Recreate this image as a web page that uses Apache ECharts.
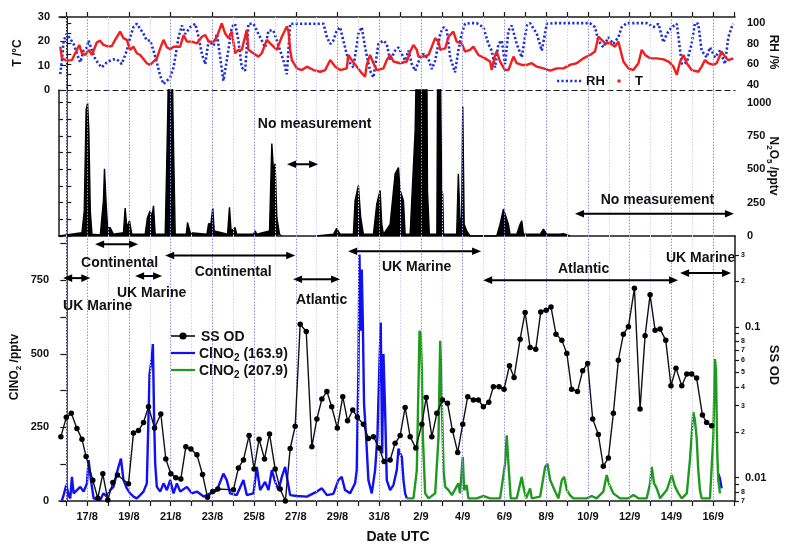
<!DOCTYPE html>
<html>
<head>
<meta charset="utf-8">
<script src="https://cdn.jsdelivr.net/npm/echarts@6/dist/echarts.min.js"></script>
<style>
  html, body { margin: 0; padding: 0; background: #fff; }
  #chart { width: 788px; height: 544px; }
</style>
</head>
<body>
<div id="chart"></div>
<script>
// Time is expressed in days since 16/8 00:00 UTC.

// ---------- axis labels ----------
const dateLabels = ['17/8', '19/8', '21/8', '23/8', '25/8', '27/8', '29/8', '31/8',
                    '2/9', '4/9', '6/9', '8/9', '10/9', '12/9', '14/9', '16/9'];
const labelDays = [1, 3, 5, 7, 9, 11, 13, 15, 17, 19, 21, 23, 25, 27, 29, 31];
const tempTicks = [0, 10, 20, 30];
const rhTicks = [40, 60, 80, 100];
const n2o5Ticks = [0, 250, 500, 750, 1000];
const clno2Ticks = [0, 250, 500, 750];
const ssodTicks = [0.007, 0.008, 0.01, 0.02, 0.03, 0.04, 0.05, 0.06, 0.07, 0.08, 0.1, 0.2, 0.3];

// ---------- temperature (°C) ----------
const temperature = [[-0.29,17.8],[-0.21,13.0],[0.03,12.1],[0.27,12.3],[0.51,16.5],[0.62,18.5],[0.75,15.1],[0.91,14.4],[1.07,16.5],[1.23,14.4],[1.46,19.5],[1.62,20.3],[1.78,18.5],[2.02,17.8],[2.18,18.1],[2.34,20.6],[2.58,24.0],[2.74,21.3],[2.90,20.6],[3.06,16.5],[3.22,17.8],[3.38,15.1],[3.54,14.4],[3.86,11.0],[4.02,10.3],[4.18,11.7],[4.34,13.0],[4.50,17.1],[4.66,20.6],[4.82,17.6],[4.98,16.7],[5.14,17.8],[5.46,17.8],[5.62,22.6],[5.78,19.9],[6.02,19.9],[6.26,19.2],[6.50,21.9],[6.66,22.6],[6.82,19.9],[7.06,19.9],[7.22,21.9],[7.45,27.4],[7.61,23.3],[7.77,21.3],[7.93,24.0],[8.09,15.1],[8.25,16.5],[8.41,16.5],[8.65,24.7],[8.73,16.5],[8.97,15.1],[9.21,13.7],[9.37,15.1],[9.61,20.6],[9.85,18.5],[10.09,16.5],[10.33,21.9],[10.57,26.1],[10.65,24.0],[10.73,16.5],[10.81,12.3],[11.05,8.9],[11.29,8.2],[11.53,9.6],[11.85,8.2],[12.17,7.5],[12.41,8.2],[12.65,12.3],[12.89,9.6],[13.13,8.2],[13.44,8.9],[13.52,14.4],[13.68,12.3],[13.92,9.6],[14.16,6.9],[14.32,5.5],[14.40,10.3],[14.56,14.4],[14.72,11.0],[14.88,8.2],[15.20,8.9],[15.36,12.3],[15.52,14.4],[15.68,11.7],[16.00,11.0],[16.32,11.7],[16.48,15.8],[16.64,18.5],[16.80,16.5],[16.88,13.7],[17.12,13.7],[17.36,14.4],[17.52,17.8],[17.68,21.3],[17.84,19.9],[17.92,16.5],[18.16,17.1],[18.32,21.9],[18.55,24.0],[18.71,19.9],[18.95,19.2],[19.11,15.8],[19.35,16.5],[19.51,17.8],[19.75,14.4],[20.07,13.0],[20.31,11.7],[20.39,8.2],[20.55,14.4],[20.63,15.8],[20.79,11.7],[21.03,8.2],[21.19,8.2],[21.43,13.7],[21.59,11.0],[21.83,10.3],[22.07,10.3],[22.31,11.0],[22.55,9.6],[22.87,8.9],[23.19,8.0],[23.51,8.9],[23.83,8.9],[24.14,10.3],[24.46,11.0],[24.78,13.0],[25.10,14.4],[25.34,15.8],[25.50,21.9],[25.66,20.6],[25.82,19.2],[26.06,19.2],[26.30,17.8],[26.46,19.9],[26.54,17.1],[26.70,11.7],[26.94,8.9],[27.18,8.2],[27.42,11.0],[27.58,16.5],[27.74,14.4],[27.98,13.0],[28.30,13.0],[28.62,12.6],[28.86,11.7],[29.10,9.6],[29.26,6.2],[29.42,11.7],[29.58,14.4],[29.74,11.0],[29.97,8.2],[30.29,7.5],[30.45,9.6],[30.61,12.3],[30.77,11.0],[31.01,10.3],[31.17,11.0],[31.41,15.8],[31.57,13.7],[31.73,12.3],[31.97,13.0]];

// ---------- relative humidity (%) ----------
const humidity = [[-0.29,50.4],[-0.21,63.5],[-0.13,83.1],[0.03,89.6],[0.19,84.7],[0.35,79.8],[0.51,70.0],[0.67,61.9],[0.83,73.3],[0.99,76.5],[1.07,83.1],[1.23,73.3],[1.39,65.1],[1.55,60.2],[1.70,57.0],[1.94,61.9],[2.10,63.5],[2.34,65.1],[2.50,63.5],[2.66,60.2],[2.90,73.3],[3.06,86.3],[3.22,96.1],[3.38,99.4],[3.54,94.5],[3.70,89.6],[3.86,83.1],[4.02,83.1],[4.18,73.3],[4.34,61.9],[4.50,48.8],[4.66,40.7],[4.82,43.9],[4.98,47.2],[5.14,57.0],[5.38,86.3],[5.54,97.7],[5.70,89.6],[5.94,96.1],[6.18,99.4],[6.34,86.3],[6.50,70.0],[6.66,60.2],[6.82,83.1],[7.06,78.2],[7.22,89.6],[7.53,43.9],[7.69,63.5],[7.93,96.1],[8.09,99.4],[8.25,83.1],[8.41,57.0],[8.57,53.7],[8.73,99.4],[8.97,99.4],[9.13,92.8],[9.37,83.1],[9.53,76.5],[9.69,92.8],[9.93,92.8],[10.25,73.3],[10.41,63.5],[10.57,50.4],[10.73,99.4],[11.21,99.4],[11.85,99.4],[12.33,99.4],[12.49,86.3],[12.65,79.8],[12.80,83.1],[12.96,92.8],[13.12,96.1],[13.28,83.1],[13.52,63.5],[13.76,57.0],[14.00,89.6],[14.16,96.1],[14.32,76.5],[14.56,53.7],[14.72,47.2],[14.96,79.8],[15.20,83.1],[15.36,79.8],[15.52,63.5],[15.76,73.3],[15.92,76.5],[16.08,70.0],[16.24,63.5],[16.40,73.3],[16.56,60.2],[16.72,53.7],[16.96,66.7],[17.12,70.0],[17.36,65.1],[17.52,55.3],[17.68,63.5],[17.92,89.6],[18.08,96.1],[18.24,92.8],[18.40,66.7],[18.63,52.1],[18.79,73.3],[18.95,89.6],[19.11,99.4],[19.35,100],[19.67,100],[19.99,96.1],[20.23,79.8],[20.39,73.3],[20.55,57.0],[20.71,79.8],[20.87,83.1],[21.03,60.2],[21.19,92.8],[21.35,97.7],[21.59,79.8],[21.83,66.7],[22.07,97.7],[22.23,100],[22.55,89.6],[22.79,73.3],[23.03,99.4],[23.35,100],[23.83,100],[24.46,100],[25.10,100],[25.34,96.1],[25.50,83.1],[25.74,76.5],[25.98,86.3],[26.22,79.8],[26.46,86.3],[26.62,96.1],[26.86,100],[27.34,100],[27.82,100],[28.14,96.1],[28.38,99.4],[28.62,81.4],[28.78,89.6],[29.02,96.1],[29.26,99.4],[29.50,60.2],[29.74,61.9],[29.97,79.8],[30.13,100],[30.29,99.4],[30.45,73.3],[30.69,66.7],[30.85,76.5],[31.09,66.7],[31.33,73.3],[31.57,60.2],[31.73,86.3],[31.89,96.1],[31.97,99.4]];

// ---------- N2O5 (pptv); null marks the gap without measurement ----------
const n2o5 = [[-0.35,0],[0.75,25],[0.86,189],[0.95,947],[1.02,997],[1.08,795],[1.15,189],[1.23,13],[1.63,8],[1.70,13],[1.78,265],[1.83,505],[1.91,240],[1.98,63],[2.10,63],[2.18,76],[2.26,13],[2.74,25],[2.82,210],[2.90,63],[3.03,114],[3.14,13],[3.78,13],[3.89,139],[4.02,189],[4.10,139],[4.18,227],[4.26,13],[4.74,13],[4.82,593],[4.87,997],[4.92,1600],[5.04,1800],[5.11,947],[5.15,593],[5.22,13],[5.75,13],[5.81,101],[5.94,25],[6.74,13],[6.82,93],[6.93,88],[7.02,210],[7.09,38],[7.73,13],[7.82,215],[7.90,38],[8.09,63],[8.17,13],[8.97,13],[9.05,38],[9.13,13],[9.74,38],[9.85,694],[9.93,492],[10.01,543],[10.09,139],[10.22,13],[10.30,0],[10.40,null],[12.00,0],[12.80,13],[12.96,58],[13.12,13],[13.76,13],[13.84,265],[14.00,379],[14.11,139],[14.24,13],[14.72,13],[14.88,240],[15.04,341],[15.12,88],[15.20,13],[15.52,88],[15.68,341],[15.76,467],[15.92,513],[16.00,341],[16.16,265],[16.24,13],[16.48,13],[16.72,795],[16.80,1500],[17.04,1800],[17.28,1400],[17.31,341],[17.40,13],[17.76,13],[17.80,1400],[17.92,1500],[17.99,341],[18.04,316],[18.08,13],[18.71,13],[18.79,467],[18.87,114],[18.95,139],[19.00,972],[19.07,88],[19.19,38],[19.35,0],[20.63,0],[20.79,88],[20.95,202],[21.03,189],[21.19,88],[21.27,13],[21.59,13],[21.75,88],[21.83,114],[21.91,13],[22.71,13],[22.87,51],[23.03,13],[23.67,13],[23.83,18],[24.14,0]];

// ---------- ClNO2 (pptv), m/z 163.9 and 207.9 ----------
const clno2Mz164 = [[-0.21,1],[-0.13,20],[0,54],[0.11,20],[0.19,9],[0.27,82],[0.35,26],[0.51,37],[0.67,48],[0.83,32],[0.99,60],[1.07,139],[1.11,139],[1.18,71],[1.31,9],[1.63,3],[1.78,26],[1.94,15],[2.10,37],[2.26,48],[2.50,116],[2.62,144],[2.74,71],[2.90,43],[3.06,26],[3.22,15],[3.38,9],[3.54,20],[3.70,32],[3.86,60],[3.99,431],[4.10,488],[4.15,533],[4.21,274],[4.26,127],[4.34,48],[4.50,32],[4.66,60],[4.82,37],[4.98,71],[5.14,26],[5.30,60],[5.46,32],[5.78,48],[6.02,26],[6.26,32],[6.58,15],[6.90,26],[7.22,37],[7.53,93],[7.69,71],[7.85,26],[8.17,20],[8.49,71],[8.65,20],[8.97,26],[9.13,116],[9.29,37],[9.53,65],[9.69,37],[9.85,105],[10.01,65],[10.17,37],[10.33,82],[10.49,116],[10.60,71],[10.73,20],[11.05,17],[11.53,15],[12.01,32],[12.25,43],[12.49,20],[12.80,24],[13.04,71],[13.20,82],[13.36,37],[13.60,26],[13.84,60],[13.92,105],[14.00,443],[14.05,837],[14.11,578],[14.16,786],[14.21,617],[14.27,330],[14.37,217],[14.48,71],[14.64,26],[14.80,105],[14.91,217],[14.99,420],[15.07,606],[15.14,161],[15.20,499],[15.28,307],[15.36,71],[15.52,37],[15.68,54],[15.84,105],[15.92,178],[16.00,161],[16.08,150],[16.16,71],[16.24,26],[16.32,9]];
const clno2Mz164Late = [[31.25,93],[31.33,76],[31.41,43]];
const clno2Mz208 = [[16.32,9],[16.64,9],[16.80,105],[16.93,578],[16.99,566],[17.04,443],[17.09,217],[17.20,26],[17.36,9],[17.68,26],[17.84,217],[17.92,544],[17.96,454],[18.00,330],[18.08,105],[18.16,48],[18.32,37],[18.48,20],[18.79,60],[18.87,26],[19.00,150],[19.07,37],[19.19,54],[19.27,9],[19.67,9],[19.99,17],[20.31,9],[20.79,9],[21.03,127],[21.11,223],[21.19,127],[21.30,9],[21.59,9],[21.83,82],[21.91,48],[22.04,9],[22.23,43],[22.31,9],[22.71,15],[22.95,116],[23.06,127],[23.19,71],[23.43,32],[23.59,9],[23.75,71],[23.86,82],[23.99,37],[24.14,20],[24.30,9],[24.94,9],[25.18,17],[25.42,9],[25.74,32],[25.90,88],[26.03,54],[26.22,26],[26.54,9],[26.94,9],[27.18,20],[27.42,9],[27.82,9],[27.98,60],[28.06,116],[28.17,60],[28.30,43],[28.46,9],[28.78,37],[29.02,88],[29.18,48],[29.34,26],[29.50,9],[29.74,26],[29.89,139],[30.05,302],[30.13,274],[30.21,217],[30.29,105],[30.37,37],[30.45,9],[30.85,9],[31.01,217],[31.09,482],[31.14,443],[31.20,161],[31.25,71],[31.33,26]];

// ---------- sea-salt optical depth ----------
const seaSaltOD = [[-0.26,0.0187],[0.0,0.0251],[0.24,0.0267],[0.51,0.0212],[0.75,0.0180],[0.95,0.0138],[1.27,0.0096],[1.51,0.0073],[1.75,0.0106],[1.99,0.0071],[2.23,0.0093],[2.45,0.0104],[2.98,0.0091],[3.22,0.0198],[3.46,0.0205],[3.70,0.0232],[3.94,0.0295],[4.23,0.0213],[4.53,0.0264],[4.77,0.0133],[5.01,0.0106],[5.25,0.0100],[5.49,0.0098],[5.73,0.0160],[5.97,0.0155],[6.26,0.0142],[6.53,0.0105],[6.77,0.0074],[7.02,0.0081],[7.26,0.0084],[8.01,0.0083],[8.25,0.0116],[8.49,0.0131],[8.76,0.0190],[9.00,0.0114],[9.24,0.0180],[9.50,0.0133],[9.74,0.0195],[10.01,0.0114],[10.25,0.0084],[10.50,0.0070],[10.73,0.0156],[10.97,0.0219],[11.21,0.104],[11.50,0.093],[11.77,0.0160],[12.01,0.0245],[12.25,0.0332],[12.49,0.0373],[12.72,0.0295],[12.99,0.0213],[13.25,0.0344],[13.48,0.0238],[13.73,0.0281],[13.95,0.0251],[14.24,0.0226],[14.48,0.0182],[14.72,0.0187],[14.99,0.0157],[15.23,0.0128],[15.52,0.0131],[15.76,0.0169],[16.00,0.0190],[16.24,0.0292],[16.48,0.0187],[16.75,0.0157],[17.04,0.0226],[17.25,0.0340],[17.52,0.0187],[17.76,0.0267],[18.03,0.0327],[18.27,0.0311],[18.51,0.0205],[18.76,0.0147],[19.00,0.0226],[19.24,0.0344],[19.51,0.0327],[19.75,0.0327],[19.99,0.0295],[20.25,0.0316],[20.47,0.0401],[20.74,0.0401],[20.98,0.0386],[21.24,0.0552],[21.46,0.0461],[21.75,0.0828],[21.99,0.1245],[22.23,0.0729],[22.50,0.0711],[22.74,0.1256],[23.00,0.1288],[23.23,0.1355],[23.47,0.0893],[23.75,0.0816],[23.99,0.0666],[24.22,0.0386],[24.50,0.0372],[24.75,0.0512],[24.99,0.0571],[25.23,0.0245],[25.50,0.0193],[25.74,0.0119],[25.98,0.0135],[26.22,0.0267],[26.46,0.0601],[26.70,0.0893],[26.94,0.100],[27.23,0.180],[27.50,0.0285],[27.74,0.0871],[27.98,0.163],[28.22,0.0950],[28.46,0.0966],[28.73,0.0816],[28.98,0.0407],[29.22,0.0532],[29.50,0.0407],[29.74,0.0486],[29.97,0.0486],[30.21,0.0457],[30.49,0.0260],[30.69,0.0232],[30.93,0.0221]];

// ---------- air-mass periods and data gaps (days) ----------
const airMassNames = ['UK Marine', 'Continental', 'UK Marine', 'Continental', 'Atlantic', 'UK Marine', 'Atlantic', 'UK Marine'];
const airMassStart = [-0.15, 1.38, 3.30, 4.74, 10.87, 13.51, 19.98, 29.42];
const airMassEnd   = [1.15, 3.44, 4.59, 10.97, 13.12, 19.88, 29.32, 31.86];
const gapNames = ['No measurement', 'No measurement'];
const gapStart = [10.58, 24.38];
const gapEnd   = [12.07, 32.0];

// ---------- layout ----------
const FONT = '"Liberation Sans", Arial, Helvetica, sans-serif';
const X_MIN = -0.35, X_MAX = 32.05;
const INK = '#1a1a1a';
const tickDays = Array.from({ length: 33 }, (_, i) => i);
const topTickDays = [0, 1, 3, 5, 7, 9, 11, 13, 15].concat(tickDays.filter(d => d >= 16));
// arrow heights (pptv on ClNO2 axis / N2O5 axis) and label offsets in px
const airMassArrowLevel = [757, 872, 764, 834, 753, 848, 750, 774];
const airMassLabelDx = [21, 3, 3, 3, 5, 2, 3, -5];
const airMassLabelDy = [28, 19, 17, 17, 21, 16, -11, -15];
const gapArrowLevel = [538, 167];
const gapLabelDx = [12, 3];
const gapLabelDy = [-40, -14];

const axisLineStyle = { color: INK, width: 1.5 };
const tickLineStyle = { color: INK, width: 1.2 };
const labelStyle = { color: '#111', fontSize: 11, fontWeight: 'bold', fontFamily: FONT };
const plainNumber = v => String(v);

function xAxisFor(gridIndex, extra) {
  return Object.assign({
    type: 'value', gridIndex, min: X_MIN, max: X_MAX,
    splitLine: { show: false },
    axisLine: { show: true, onZero: false, lineStyle: axisLineStyle },
    axisTick: { show: false },
    axisLabel: { show: false }
  }, extra);
}

function dayLineSeries(xi, yi) {
  return {
    type: 'line', xAxisIndex: xi, yAxisIndex: yi, data: [], silent: true, z: 1,
    markLine: {
      silent: true, animation: false, symbol: ['none', 'none'],
      label: { show: false },
      data: tickDays.filter(d => d < 32).map(d => ({
        xAxis: d,
        lineStyle: {
          color: labelDays.includes(d) ? '#8e8ef2' : '#cfd1fb',
          type: [1.5, 1.5], width: 1
        }
      }))
    }
  };
}

const decadeLabels = { 0.01: '0.01', 0.1: '0.1' };

const option = {
  animation: false,
  backgroundColor: '#fff',
  grid: [
    { left: 59, right: 53, top: 17, height: 73 },
    { left: 59, right: 53, top: 90, height: 146 },
    { left: 59, right: 53, top: 236, height: 265 }
  ],
  xAxis: [
    xAxisFor(0, { position: 'top',
      axisTick: { show: true, length: 5, customValues: topTickDays, lineStyle: tickLineStyle } }),
    xAxisFor(0, { position: 'bottom',
      axisLine: { show: true, onZero: false, lineStyle: { color: INK, width: 1.2, type: [5, 4] } } }),
    xAxisFor(1, { position: 'bottom' }),
    xAxisFor(2, { position: 'bottom',
      axisTick: { show: true, length: 5, customValues: tickDays, lineStyle: tickLineStyle },
      axisLabel: Object.assign({ show: true, margin: 10, customValues: labelDays,
        formatter: v => { const i = labelDays.indexOf(Math.round(v)); return i >= 0 ? dateLabels[i] : ''; } },
        labelStyle) })
  ],
  yAxis: [
    { type: 'value', gridIndex: 0, position: 'left', min: 0, max: 30,
      splitLine: { show: false }, axisLine: { show: true, lineStyle: axisLineStyle },
      axisTick: { show: true, length: 6, customValues: tempTicks, lineStyle: tickLineStyle },
      axisLabel: Object.assign({ margin: 9, customValues: tempTicks, formatter: plainNumber }, labelStyle) },
    { type: 'value', gridIndex: 0, position: 'right', min: 35, max: 106,
      splitLine: { show: false }, axisLine: { show: true, lineStyle: axisLineStyle },
      axisTick: { show: true, length: 5, customValues: [40, 50, 60, 70, 80, 90, 100], lineStyle: tickLineStyle },
      axisLabel: Object.assign({ margin: 12, customValues: rhTicks, formatter: plainNumber }, labelStyle) },
    { type: 'value', gridIndex: 1, position: 'right', min: 0, max: 1095,
      splitLine: { show: false }, axisLine: { show: true, lineStyle: axisLineStyle },
      axisTick: { show: true, length: 5, customValues: [0, 125, 250, 375, 500, 625, 750, 875, 1000], lineStyle: tickLineStyle },
      axisLabel: Object.assign({ margin: 12, customValues: n2o5Ticks, formatter: plainNumber }, labelStyle) },
    { type: 'value', gridIndex: 1, position: 'left', min: 0, max: 1095,
      splitLine: { show: false }, axisLine: { show: true, lineStyle: axisLineStyle },
      axisTick: { show: true, inside: true, length: 4, customValues: [0, 125, 250, 375, 500, 625, 750, 875, 1000], lineStyle: tickLineStyle },
      axisLabel: { show: false } },
    { type: 'value', gridIndex: 2, position: 'left', min: 0, max: 900,
      splitLine: { show: false }, axisLine: { show: true, lineStyle: axisLineStyle },
      axisTick: { show: true, length: 6, customValues: [0, 125, 250, 375, 500, 625, 750, 875], lineStyle: tickLineStyle },
      axisLabel: Object.assign({ margin: 10, customValues: clno2Ticks, formatter: plainNumber }, labelStyle) },
    { type: 'log', logBase: 10, gridIndex: 2, position: 'right', min: 0.007, max: 0.4,
      splitLine: { show: false }, axisLine: { show: true, lineStyle: axisLineStyle },
      axisTick: { show: true, length: 4,
        customValues: [0.007, 0.008, 0.009, 0.01, 0.02, 0.03, 0.04, 0.05, 0.06, 0.07, 0.08, 0.09, 0.1, 0.2, 0.3],
        lineStyle: tickLineStyle },
      axisLabel: { margin: 6, customValues: ssodTicks,
        formatter: v => {
          const key = Math.round(v * 1000) / 1000;
          if (decadeLabels[key]) return '{big|' + decadeLabels[key] + '}';
          const digit = Math.round(v / Math.pow(10, Math.floor(Math.log10(v) + 1e-9)));
          return '{small|' + digit + '}';
        },
        rich: {
          big: { fontSize: 11, fontWeight: 'bold', fontFamily: FONT, color: '#111', padding: [0, 0, 0, 4] },
          small: { fontSize: 7, fontWeight: 'bold', fontFamily: FONT, color: '#111' }
        } } }
  ],
  series: [
    dayLineSeries(0, 0),
    { name: 'RH', type: 'line', xAxisIndex: 0, yAxisIndex: 1, data: humidity, z: 3,
      showSymbol: false, clip: true,
      lineStyle: { color: '#1f2fd8', width: 2.6, type: [2.2, 2.2] } },
    { name: 'T', type: 'line', xAxisIndex: 0, yAxisIndex: 0, data: temperature, z: 4,
      showSymbol: false, clip: true,
      lineStyle: { color: '#f21d1d', width: 2.4 } },
    dayLineSeries(2, 2),
    { name: 'N2O5', type: 'line', xAxisIndex: 2, yAxisIndex: 2, data: n2o5, z: 3,
      showSymbol: false, clip: true, connectNulls: false,
      lineStyle: { color: '#000', width: 1.4 },
      areaStyle: { color: '#000', opacity: 1 } },
    dayLineSeries(3, 4),
    { name: 'ClNO2 (163.9)', type: 'line', xAxisIndex: 3, yAxisIndex: 4, data: clno2Mz164, z: 3,
      showSymbol: false, clip: true, lineStyle: { color: '#1010f0', width: 2.4 } },
    { name: 'ClNO2 (163.9) late', type: 'line', xAxisIndex: 3, yAxisIndex: 4, data: clno2Mz164Late, z: 3,
      showSymbol: false, clip: true, lineStyle: { color: '#1010f0', width: 2.4 } },
    { name: 'ClNO2 (207.9)', type: 'line', xAxisIndex: 3, yAxisIndex: 4, data: clno2Mz208, z: 3,
      showSymbol: false, clip: true, lineStyle: { color: '#1f9a1f', width: 2.4 } },
    { name: 'SS OD', type: 'line', xAxisIndex: 3, yAxisIndex: 5, data: seaSaltOD, z: 5,
      symbol: 'circle', symbolSize: 5.5, showSymbol: true, clip: true,
      itemStyle: { color: '#000' }, lineStyle: { color: '#111', width: 1.4 } }
  ]
};

const chart = echarts.init(document.getElementById('chart'), null, { renderer: 'canvas' });
chart.setOption(option);

// ---------- text, legends and annotations ----------
const bold = (size) => ({ fontSize: size, fontWeight: 'bold', fontFamily: FONT, fill: '#111' });
function richName(parts, size) {
  // parts: array of [text, isSubscript]
  return {
    text: parts.map(p => (p[1] ? '{s|' : '{n|') + p[0] + '}').join(''),
    rich: {
      n: { fontSize: size, fontWeight: 'bold', fontFamily: FONT, fill: '#111', lineHeight: size + 4 },
      s: { fontSize: Math.round(size * 0.68), fontWeight: 'bold', fontFamily: FONT, fill: '#111',
           verticalAlign: 'bottom', lineHeight: Math.round(size * 0.68) }
    }
  };
}
function textEl(x, y, style, rotation) {
  return { type: 'text', x, y, rotation: rotation || 0, silent: true, z: 20,
    style: Object.assign({ align: 'center', verticalAlign: 'middle' }, style) };
}
function arrowEls(x1, x2, y) {
  const h = 9, w = 3.8;
  return [
    { type: 'line', silent: true, z: 20, shape: { x1: x1 + h - 1, y1: y, x2: x2 - h + 1, y2: y },
      style: { stroke: '#000', lineWidth: 2 } },
    { type: 'polygon', silent: true, z: 20, shape: { points: [[x1, y], [x1 + h, y - w], [x1 + h, y + w]] },
      style: { fill: '#000' } },
    { type: 'polygon', silent: true, z: 20, shape: { points: [[x2, y], [x2 - h, y - w], [x2 - h, y + w]] },
      style: { fill: '#000' } }
  ];
}
const px = (d) => chart.convertToPixel({ xAxisIndex: 3 }, d);

const graphics = [];
// axis titles
graphics.push(textEl(18, 53, Object.assign({ text: 'T /°C' }, bold(12)), Math.PI / 2));
graphics.push(textEl(15, 367, richName([['ClNO', 0], ['2', 1], [' /pptv', 0]], 12), Math.PI / 2));
graphics.push(textEl(773, 52, Object.assign({ text: 'RH /%' }, bold(12)), -Math.PI / 2));
graphics.push(textEl(773, 166, richName([['N', 0], ['2', 1], ['O', 0], ['5', 1], [' /pptv', 0]], 12), -Math.PI / 2));
graphics.push(textEl(774, 365, Object.assign({ text: 'SS OD' }, bold(13)), -Math.PI / 2));
graphics.push(textEl(398, 537, Object.assign({ text: 'Date UTC' }, bold(14))));

// top legend
graphics.push({ type: 'line', silent: true, z: 20, shape: { x1: 557, y1: 81, x2: 583, y2: 81 },
  style: { stroke: '#1f2fd8', lineWidth: 2.6, lineDash: [2.2, 2.2] } });
graphics.push(textEl(586, 81, Object.assign({ text: 'RH', align: 'left' }, bold(13))));
graphics.push({ type: 'circle', silent: true, z: 20, shape: { cx: 619, cy: 81, r: 1.8 }, style: { fill: '#f21d1d' } });
graphics.push(textEl(635, 81, Object.assign({ text: 'T', align: 'left' }, bold(13))));

// bottom legend
graphics.push({ type: 'line', silent: true, z: 20, shape: { x1: 171, y1: 336, x2: 195, y2: 336 },
  style: { stroke: '#111', lineWidth: 1.6 } });
graphics.push({ type: 'circle', silent: true, z: 20, shape: { cx: 183, cy: 336, r: 3.6 }, style: { fill: '#000' } });
graphics.push(textEl(201, 337, Object.assign({ text: 'SS OD', align: 'left' }, bold(14))));
graphics.push({ type: 'line', silent: true, z: 20, shape: { x1: 171, y1: 353, x2: 195, y2: 353 },
  style: { stroke: '#1010f0', lineWidth: 2.2 } });
graphics.push(textEl(199, 354, Object.assign({ align: 'left' },
  richName([['ClNO', 0], ['2', 1], [' (163.9)', 0]], 14))));
graphics.push({ type: 'line', silent: true, z: 20, shape: { x1: 171, y1: 370, x2: 195, y2: 370 },
  style: { stroke: '#1f9a1f', lineWidth: 2.2 } });
graphics.push(textEl(199, 371, Object.assign({ align: 'left' },
  richName([['ClNO', 0], ['2', 1], [' (207.9)', 0]], 14))));

// air-mass periods
airMassNames.forEach((name, i) => {
  const x1 = px(airMassStart[i]), x2 = px(airMassEnd[i]);
  const y = chart.convertToPixel({ yAxisIndex: 4 }, airMassArrowLevel[i]);
  arrowEls(x1, x2, y).forEach(e => graphics.push(e));
  graphics.push(textEl((x1 + x2) / 2 + airMassLabelDx[i], y + airMassLabelDy[i],
    Object.assign({ text: name }, bold(14))));
});
// measurement gaps
gapNames.forEach((name, i) => {
  const x1 = px(gapStart[i]), x2 = px(gapEnd[i]);
  const y = chart.convertToPixel({ yAxisIndex: 2 }, gapArrowLevel[i]);
  arrowEls(x1, x2, y).forEach(e => graphics.push(e));
  graphics.push(textEl((x1 + x2) / 2 + gapLabelDx[i], y + gapLabelDy[i],
    Object.assign({ text: name }, bold(14))));
});

chart.setOption({ graphic: { elements: graphics } });
</script>
</body>
</html>
